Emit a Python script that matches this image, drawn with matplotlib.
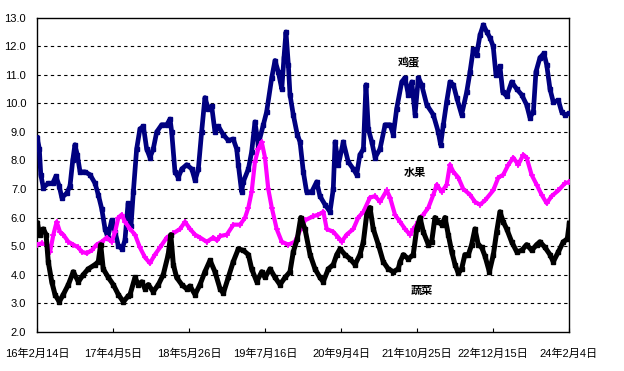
import matplotlib

matplotlib.use("Agg")
import matplotlib.pyplot as plt

plt.rcParams["font.family"] = ["Liberation Sans", "Noto Sans CJK SC", "DejaVu Sans"]

# x = days since 2016-02-14
egg_day = [0, 11, 19, 33, 60, 84, 102, 120, 134, 161, 179, 194, 206, 219, 234, 261, 289, 316,
           334, 353, 371, 386, 407, 426, 444, 464, 480, 497, 513, 526, 544, 562, 581, 599, 617,
           635, 654, 681, 709, 727, 736, 754, 772, 791, 818, 846, 864, 882, 900, 918, 937, 955,
           973, 991, 1019, 1046, 1073, 1092, 1101, 1119, 1128, 1156, 1174, 1192, 1210, 1238,
           1256, 1284, 1302, 1320, 1339, 1351, 1362, 1375, 1384, 1402, 1424, 1439, 1457, 1475,
           1503, 1530, 1548, 1576, 1603, 1621, 1631, 1649, 1676, 1703, 1731, 1749, 1767, 1786,
           1800, 1813, 1832, 1850, 1877, 1905, 1932, 1950, 1968, 1996, 2014, 2032, 2051, 2069,
           2087, 2105, 2133, 2169, 2196, 2209, 2224, 2242, 2260, 2279, 2297, 2324, 2352, 2370,
           2388, 2406, 2425, 2443, 2462, 2479, 2497, 2512, 2534, 2549, 2571, 2598, 2626, 2653,
           2680, 2698, 2717, 2731, 2753, 2775, 2790, 2808, 2826, 2854, 2872, 2890, 2914]
egg_val = [8.8, 8.4, 7.5, 7.05, 7.2, 7.2, 7.45, 7.1, 6.7, 6.85, 7.1, 8.0, 8.55, 8.2, 7.6, 7.6,
           7.5, 7.2, 6.8, 6.3, 5.6, 5.3, 5.9, 5.5, 5.0, 4.9, 5.2, 6.5, 5.7, 6.9, 8.4, 9.1, 9.2,
           8.4, 8.1, 8.4, 9.0, 9.25, 9.25, 9.45, 9.0, 7.6, 7.4, 7.7, 7.85, 7.7, 7.3, 7.7, 9.0,
           10.2, 9.8, 9.9, 9.0, 9.2, 8.9, 8.7, 8.75, 8.4, 7.85, 6.9, 7.25, 7.7, 8.3, 9.35, 8.55,
           9.25, 9.7, 10.9, 11.5, 11.1, 10.5, 11.6, 12.5, 11.35, 10.3, 9.6, 8.9, 8.65, 7.6, 6.9,
           6.9, 7.25, 6.75, 6.45, 6.2, 7.0, 8.65, 7.85, 8.65, 7.95, 7.7, 7.5, 8.2, 8.4, 10.65,
           9.1, 8.65, 8.1, 8.4, 9.25, 9.25, 8.9, 9.8, 10.75, 10.9, 10.3, 10.75, 9.6, 10.9,
           10.65, 9.95, 9.6, 9.0, 8.55, 9.25, 10.05, 10.75, 10.65, 10.2, 9.6, 10.4, 11.1, 11.9,
           11.7, 12.4, 12.75, 12.5, 12.3, 12.0, 11.0, 11.3, 10.4, 10.25, 10.75, 10.5, 10.3,
           9.95, 9.5, 9.7, 11.1, 11.6, 11.75, 11.35, 10.5, 10.05, 10.1, 9.7, 9.6, 9.65]

fruit_day = [0, 24, 51, 70, 88, 106, 124, 142, 170, 197, 225, 243, 271, 298, 325, 353, 380,
             407, 426, 444, 462, 480, 508, 535, 562, 590, 617, 644, 672, 709, 745, 782, 809,
             836, 864, 891, 928, 964, 984, 1001, 1038, 1074, 1111, 1138, 1156, 1174, 1192,
             1210, 1229, 1247, 1265, 1284, 1311, 1339, 1375, 1411, 1439, 1466, 1512, 1539,
             1567, 1585, 1621, 1649, 1667, 1694, 1731, 1758, 1786, 1822, 1850, 1877, 1914,
             1932, 1959, 1987, 2014, 2041, 2060, 2087, 2114, 2142, 2169, 2188, 2215, 2242,
             2260, 2279, 2306, 2333, 2370, 2397, 2425, 2452, 2497, 2525, 2552, 2580, 2607,
             2634, 2662, 2680, 2707, 2735, 2762, 2790, 2817, 2854, 2890, 2914]
fruit_val = [5.05, 5.1, 5.05, 4.8, 5.4, 5.85, 5.5, 5.4, 5.15, 5.05, 4.95, 4.8, 4.75, 4.85,
             5.05, 5.15, 5.3, 5.15, 5.5, 6.0, 6.1, 5.85, 5.6, 5.4, 4.95, 4.6, 4.4, 4.7, 4.95,
             5.3, 5.45, 5.6, 5.85, 5.6, 5.4, 5.3, 5.15, 5.3, 5.2, 5.35, 5.4, 5.75, 5.75, 6.0,
             6.35, 6.9, 7.95, 8.4, 8.65, 8.1, 7.0, 6.35, 5.6, 5.15, 5.05, 5.15, 5.55, 5.9,
             6.05, 6.1, 6.2, 5.6, 5.5, 5.3, 5.15, 5.4, 5.6, 6.0, 6.2, 6.7, 6.75, 6.55, 6.95,
             6.7, 6.1, 5.85, 5.6, 5.4, 5.6, 5.85, 6.1, 6.35, 6.8, 7.15, 6.9, 7.15, 7.85, 7.6,
             7.4, 7.0, 6.8, 6.55, 6.45, 6.6, 6.95, 7.4, 7.5, 7.85, 8.1, 7.85, 8.2, 8.1, 7.5,
             7.15, 6.8, 6.5, 6.75, 6.95, 7.2, 7.25]

veg_day = [0, 15, 33, 48, 60, 79, 97, 120, 142, 170, 197, 225, 252, 279, 316, 334, 347, 361,
           389, 416, 444, 471, 498, 508, 535, 553, 572, 590, 608, 635, 663, 690, 717, 731, 745,
           763, 791, 818, 836, 864, 891, 918, 946, 973, 1001, 1019, 1046, 1073, 1101, 1128,
           1156, 1174, 1202, 1229, 1247, 1275, 1302, 1329, 1357, 1384, 1402, 1424, 1443, 1466,
           1494, 1521, 1548, 1566, 1594, 1621, 1640, 1658, 1685, 1713, 1740, 1767, 1786, 1804,
           1822, 1840, 1868, 1895, 1922, 1950, 1977, 1987, 2005, 2032, 2059, 2078, 2096, 2114,
           2142, 2160, 2178, 2197, 2215, 2233, 2251, 2270, 2288, 2306, 2324, 2342, 2361, 2379,
           2397, 2415, 2434, 2452, 2476, 2498, 2516, 2534, 2552, 2571, 2598, 2626, 2653, 2680,
           2708, 2735, 2753, 2781, 2808, 2826, 2854, 2881, 2903, 2914]
veg_val = [5.8, 5.4, 5.6, 5.4, 4.45, 3.75, 3.3, 3.05, 3.3, 3.65, 4.1, 3.75, 4.0, 4.2, 4.35,
           4.45, 5.05, 4.2, 3.9, 3.65, 3.3, 3.05, 3.25, 3.3, 3.9, 3.65, 3.75, 3.5, 3.65, 3.4,
           3.65, 4.0, 4.7, 5.4, 4.35, 3.9, 3.65, 3.5, 3.6, 3.3, 3.65, 4.1, 4.5, 4.1, 3.5, 3.35,
           3.9, 4.45, 4.9, 4.85, 4.7, 4.2, 3.75, 4.1, 3.9, 4.2, 3.9, 3.65, 3.9, 4.1, 4.8, 5.25,
           6.0, 5.6, 4.7, 4.2, 3.9, 3.75, 4.2, 4.35, 4.7, 4.9, 4.7, 4.55, 4.35, 4.7, 5.15, 6.1,
           6.35, 5.6, 5.05, 4.45, 4.2, 4.1, 4.2, 4.45, 4.7, 4.55, 4.7, 5.6, 6.0, 5.5, 5.05,
           5.15, 6.0, 5.85, 5.75, 6.0, 5.4, 4.8, 4.35, 4.05, 4.2, 4.7, 4.7, 5.05, 5.6, 5.05,
           4.95, 4.65, 4.1, 4.7, 5.5, 6.2, 5.85, 5.6, 5.15, 4.8, 4.85, 5.05, 4.85, 5.05, 5.15,
           4.95, 4.7, 4.45, 4.8, 5.15, 5.25, 5.8]

tick_days = [0, 416, 832, 1248, 1664, 2080, 2496, 2912]
tick_labels = ["16年2月14日", "17年4月5日", "18年5月26日", "19年7月16日",
               "20年9月4日", "21年10月25日", "22年12月15日", "24年2月4日"]
y_ticks = [2.0, 3.0, 4.0, 5.0, 6.0, 7.0, 8.0, 9.0, 10.0, 11.0, 12.0, 13.0]

C_EGG = "#000080"
C_FRUIT = "#FF00FF"
C_VEG = "#000000"

fig = plt.figure(figsize=(6.24, 3.71), dpi=100)
fig.patch.set_facecolor("white")
ax = fig.add_axes([0.0598, 0.1059, 0.8526, 0.8464])

for y in y_ticks[1:-1]:
    ax.axhline(y, color="black", lw=0.8, ls=(0, (3, 3)), zorder=1)

ax.plot(egg_day, egg_val, color=C_EGG, lw=3.4, marker="s", ms=3,
        solid_joinstyle="round", zorder=3)
ax.plot(fruit_day, fruit_val, color=C_FRUIT, lw=3.0, marker="+", ms=4.5, mew=1.2,
        solid_joinstyle="round", zorder=4)
ax.plot(veg_day, veg_val, color=C_VEG, lw=3.6, marker="s", ms=3,
        solid_joinstyle="round", zorder=5)

ax.text(2036, 11.45, "鸡蛋", ha="center", va="center", fontsize=8, fontweight="bold",
        family=["Noto Sans CJK SC"])
ax.text(2069, 7.56, "水果", ha="center", va="center", fontsize=8, fontweight="bold",
        family=["Noto Sans CJK SC"])
ax.text(2107, 3.46, "蔬菜", ha="center", va="center", fontsize=8, fontweight="bold",
        family=["Noto Sans CJK SC"])

ax.set_xlim(0, 2914)
ax.set_ylim(2.0, 13.0)
ax.set_yticks(y_ticks)
ax.set_yticklabels([f"{v:.1f}" for v in y_ticks])
ax.set_xticks(tick_days)
ax.set_xticklabels(tick_labels)
ax.tick_params(axis="y", length=0, pad=8, labelsize=8)
ax.tick_params(axis="x", direction="in", length=3, pad=12, labelsize=8)
for sp in ax.spines.values():
    sp.set_color("black")
    sp.set_linewidth(1.0)

fig.savefig("out.png", dpi=100, facecolor="white")
